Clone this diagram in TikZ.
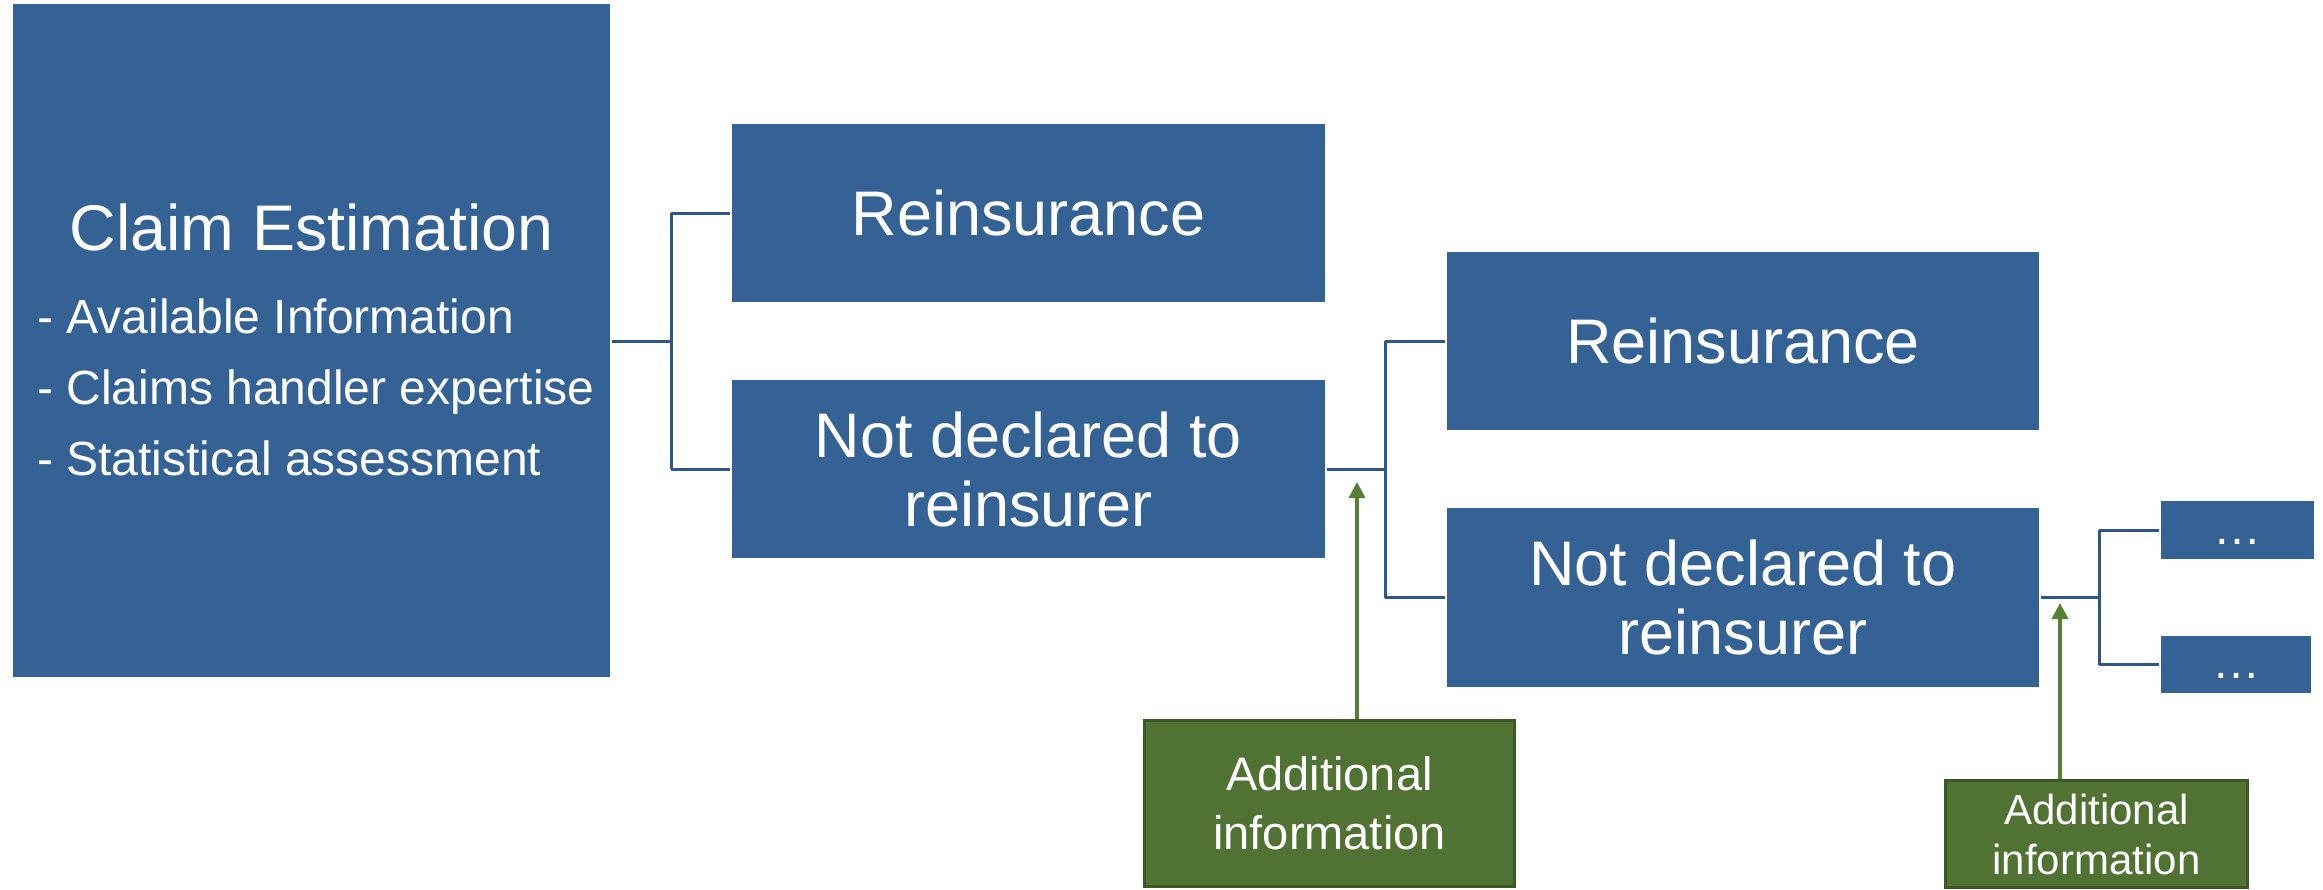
\documentclass[tikz,border=0pt]{standalone}
\usepackage{fontspec}
\setmainfont{Liberation Sans}
\usetikzlibrary{arrows.meta}
\definecolor{boxblue}{RGB}{52,98,148}
\definecolor{lineblue}{RGB}{46,86,136}
\definecolor{boxgreen}{RGB}{80,115,52}
\definecolor{edgegreen}{RGB}{60,88,36}
\definecolor{arrowgreen}{RGB}{84,128,54}
\begin{document}
\begin{tikzpicture}[x=1pt,y=-1pt,
  bluebox/.style={rectangle,fill=boxblue,text=white,inner sep=0pt,align=center,
    font=\fontsize{63}{69}\selectfont},
  greenbox/.style={rectangle,fill=boxgreen,draw=edgegreen,line width=3pt,text=white,inner sep=0pt,align=center},
  dotbox/.style={rectangle,fill=boxblue,text=white,inner sep=0pt,
    font=\fontsize{48}{50}\selectfont,text height=34pt,text depth=6pt},
  tree/.style={draw=lineblue,line width=3pt,shorten <=2pt,shorten >=2pt},
  trunk/.style={draw=lineblue,line width=3pt},
  arr/.style={draw=arrowgreen,line width=3.6pt,-{Triangle[length=16pt,width=16pt]}},
  txt/.style={text=white,inner sep=0pt}
]
\useasboundingbox (0,0) rectangle (2323,889);

% main box
\node[bluebox,minimum width=597pt,minimum height=673pt] (main) at (311.5,340.5) {};
\node[txt,anchor=base,font=\fontsize{64.5}{70}\selectfont] (title) at (311.5,250) {Claim Estimation};
\node[txt,anchor=base west,font=\fontsize{48}{55}\selectfont] (l1) at (37,333) {- Available Information};
\node[txt,anchor=base west,font=\fontsize{48}{55}\selectfont] (l2) at (37,404) {- Claims handler expertise};
\node[txt,anchor=base west,font=\fontsize{48}{55}\selectfont] (l3) at (37,475) {- Statistical assessment};

% level 1
\node[bluebox,minimum width=593pt,minimum height=178pt] (r1) at (1028.5,213) {Reinsurance};
\node[bluebox,minimum width=593pt,minimum height=178pt] (n1) at (1028.5,469) {Not declared to\\reinsurer};

% level 2
\node[bluebox,minimum width=592pt,minimum height=178pt] (r2) at (1743,341) {Reinsurance};
\node[bluebox,minimum width=592pt,minimum height=179pt] (n2) at (1743,597.5) {Not declared to\\reinsurer};

% level 3
\node[dotbox,minimum width=153pt,minimum height=58pt] (d1) at (2237.5,530) {…};
\node[dotbox,minimum width=150pt,minimum height=57pt] (d2) at (2236,664.5) {…};

% additional information boxes
\node[greenbox,minimum width=370pt,minimum height=166pt,font=\fontsize{47}{59}\selectfont] (g1) at (1329.5,803) {Additional\\information};
\node[greenbox,minimum width=302pt,minimum height=107pt,font=\fontsize{42}{50}\selectfont] (g2) at (2096.5,834) {Additional\\information};

% tree connectors
\coordinate (j1) at (671,0);
\coordinate (j2) at (1385,0);
\coordinate (j3) at (2099,0);
\draw[tree,shorten >=0pt] (main.east |- 0,341) -- (j1 |- 0,341);
\draw[tree,shorten <=0pt] (j1 |- r1.west) -- (r1.west);
\draw[tree,shorten <=0pt] (j1 |- n1.west) -- (n1.west);
\draw[trunk] (j1 |- r1.west) -- (j1 |- n1.west);

\draw[tree,shorten >=0pt] (n1.east) -- (j2 |- n1.east);
\draw[tree,shorten <=0pt] (j2 |- r2.west) -- (r2.west);
\draw[tree,shorten <=0pt] (j2 |- n2.west) -- (n2.west);
\draw[trunk] (j2 |- r2.west) -- (j2 |- n2.west);

\draw[tree,shorten >=0pt] (n2.east) -- (j3 |- n2.east);
\draw[tree,shorten <=0pt] (j3 |- d1.west) -- (d1.west);
\draw[tree,shorten <=0pt] (j3 |- d2.west) -- (d2.west);
\draw[trunk] (j3 |- d1.west) -- (j3 |- d2.west);

% arrows
\coordinate (t1) at (1357,482);
\coordinate (t2) at (2060,603);
\draw[arr] (g1.north -| t1) -- (t1);
\draw[arr] (g2.north -| t2) -- (t2);
\end{tikzpicture}
\end{document}
